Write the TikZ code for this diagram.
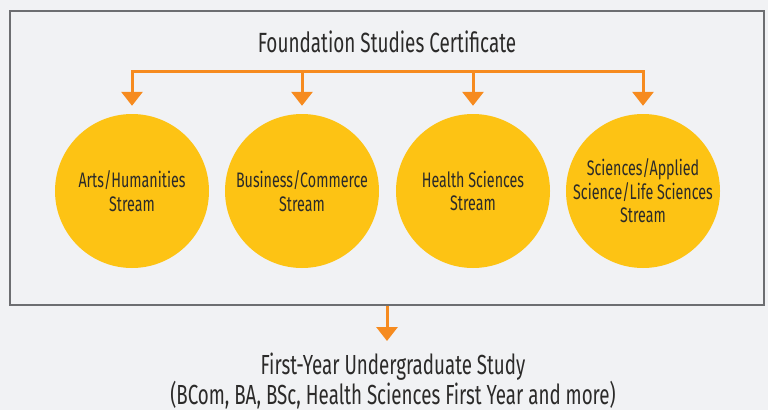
\documentclass[tikz,border=0pt]{standalone}
\usepackage{fontspec}
\setmainfont{Fira Sans}[FakeStretch=0.68]
\usetikzlibrary{arrows.meta}

\definecolor{bgray}{HTML}{F1F2F4}
\definecolor{frameline}{HTML}{6D6E71}
\definecolor{streamfill}{HTML}{FDC314}
\definecolor{arrowline}{HTML}{F68B1F}
\definecolor{inktext}{HTML}{2B2A29}

\tikzset{
  stream/.style={shape=circle, fill=streamfill, minimum size=154pt, inner sep=0pt,
    align=center, text=inktext, font=\fontsize{21}{23.5}\selectfont},
  branch/.style={draw=arrowline, line width=3pt},
  flow/.style={branch, -{Triangle[width=21pt,length=14pt]}, shorten >=8pt},
  caption/.style={text=inktext, inner sep=0pt}
}

\begin{document}
\begin{tikzpicture}[x=1pt,y=-1pt]
	\fill[bgray] (0,0) rectangle (768,410);
	\useasboundingbox (0,0) rectangle (768,410);

	\node[draw=frameline, line width=1.5pt, minimum width=754pt, minimum height=294pt, inner sep=0pt] (frame) at (387,158) {};
	\node[caption, anchor=base, font=\fontsize{27.8}{30}\selectfont] (title) at (387,52) {Foundation Studies Certificate};
	\coordinate (bar) at (387,71);

	\node[stream] (arts)     at (132,191) {Arts/Humanities\\Stream};
	\node[stream] (business) at (302,191) {Business/Commerce\\Stream};
	\node[stream] (health)   at (473,191) {Health Sciences\\Stream};
	\node[stream] (science)  at (643,191) {Sciences/Applied\\Science/Life Sciences\\Stream};

	\draw[branch, line cap=rect] (arts |- bar) -- (science |- bar);
	\foreach \s in {arts,business,health,science}
		\draw[flow] (\s |- bar) -- (\s);

	\node[caption, anchor=north, align=center, font=\fontsize{27.6}{26}\selectfont] (result) at (393,353)
		{First-Year Undergraduate Study\\(BCom, BA, BSc, Health Sciences First Year and more)};
	\draw[flow, shorten >=12pt] (frame.south) -- (frame.south |- result.north);
\end{tikzpicture}
\end{document}
